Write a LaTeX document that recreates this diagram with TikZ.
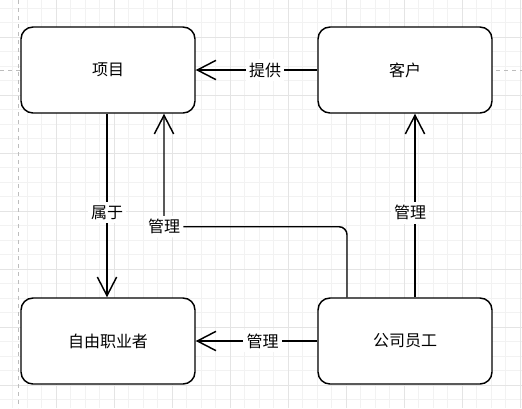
\documentclass[tikz,border=0pt]{standalone}
\usepackage{fontspec}
\setmainfont{Noto Sans CJK SC}
\usepackage{tikz}
\usetikzlibrary{arrows.meta, positioning, calc}
\definecolor{gridminor}{HTML}{F2F2F2}
\definecolor{gridmajor}{HTML}{E4E4E4}
\definecolor{guidegray}{HTML}{BDBDBD}
\tikzset{
  entitybox/.style={
    draw, rounded corners=9pt, line width=1.1pt, fill=white,
    minimum width=130.5pt, minimum height=64.5pt, align=center,
    font=\fontsize{12pt}{14pt}\selectfont
  },
  relarrow/.style={
    -{Straight Barb[length=14pt, width=14.5pt, line width=1.1pt]},
    line width=1.1pt
  },
  rellabel/.style={
    fill=white, inner sep=2.5pt, font=\fontsize{12pt}{14pt}\selectfont
  },
  gridline/.style={gridminor, line width=0.6pt},
  gridbold/.style={gridmajor, line width=0.7pt},
  guideline/.style={guidegray, dashed, line width=0.6pt},
}
\begin{document}
\begin{tikzpicture}[x=0.75pt, y=-0.75pt]
  % canvas and grid
  \fill[white] (0,0) rectangle (522,408);
  \useasboundingbox (0,0) rectangle (522,408);
  \foreach \i in {0,...,35} {
    \draw[gridline] ({12.5+14.5*\i},0) -- ({12.5+14.5*\i},408);
  }
  \foreach \j in {0,...,27} {
    \draw[gridline] (0,{8.3+14.5*\j}) -- (522,{8.3+14.5*\j});
  }
  \foreach \i in {0,...,8} {
    \draw[gridbold] ({56+58*\i},0) -- ({56+58*\i},408);
  }
  \foreach \j in {0,...,6} {
    \draw[gridbold] (0,{37.3+58*\j}) -- (522,{37.3+58*\j});
  }
  \draw[guideline] (18,0) -- (18,408);
  \draw[guideline] (0,70) -- (522,70);

  % entities
  \node[entitybox] (project)  at (108,70)  {项目};
  \node[entitybox] (client)   at (405,70)  {客户};
  \node[entitybox] (freelance) at (108,341) {自由职业者};
  \node[entitybox] (staff)    at (405,341) {公司员工};

  % relations
  \draw[relarrow] (client.west) -- node[rellabel, pos=0.43] {提供} (project.east);
  \draw[relarrow] ($(project.south)+(-1,0)$) -- node[rellabel, pos=0.54] {属于}
    ($(freelance.north)+(-1,0)$);
  \draw[relarrow] (staff.west) -- node[rellabel, pos=0.45] {管理} (freelance.west -| freelance.east);
  \draw[relarrow] ($(staff.north)+(10,0)$) -- node[rellabel, pos=0.46, xshift=-3.75pt] {管理}
    ($(client.south)+(10,0)$);
  \draw[relarrow, rounded corners=6pt] ($(staff.north)+(-58,0)$)
    |- ($(project.south)+(56,113)$) node[rellabel] {管理}
    -- ($(project.south)+(56,0)$);
\end{tikzpicture}
\end{document}
